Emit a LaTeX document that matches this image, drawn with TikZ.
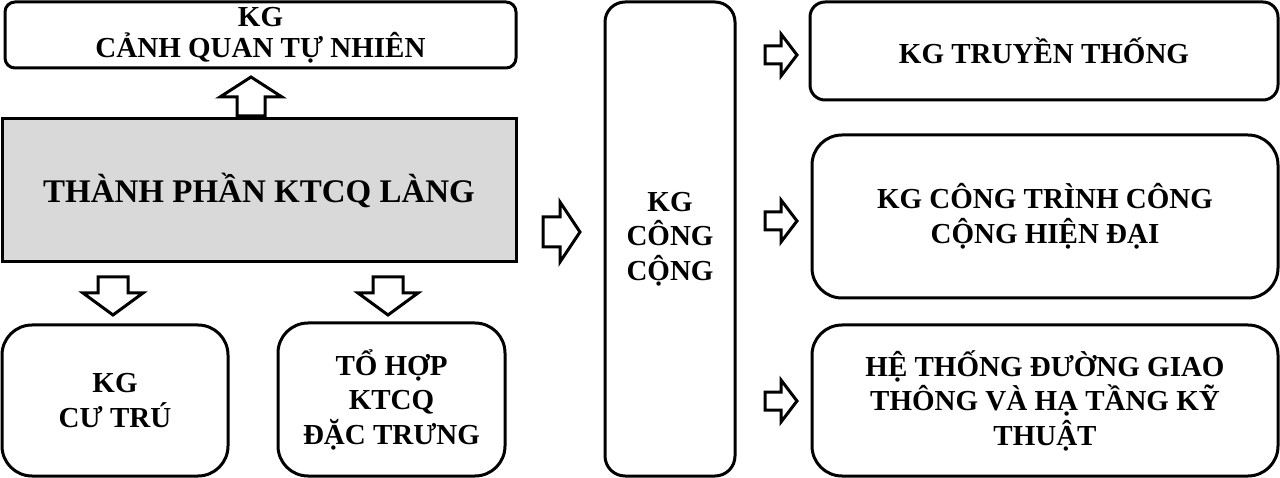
\documentclass[tikz,border=0pt]{standalone}
\usepackage{fontspec}
\setmainfont{Liberation Serif}
\usetikzlibrary{positioning}

\tikzset{
  box/.style={draw, line width=3pt, rounded corners=#1, align=center, inner sep=0pt,
    font=\fontsize{29}{34.5}\selectfont\bfseries},
  box/.default=30pt,
  arrowline/.style={draw, line width=3pt, fill=white, line join=miter},
  pics/barrow/.style n args={4}{code={
    \draw[arrowline] (0,{-#3/2}) -- ({#1-#4},{-#3/2}) -- ({#1-#4},{-#2/2}) -- (#1,0)
      -- ({#1-#4},{#2/2}) -- ({#1-#4},{#3/2}) -- (0,{#3/2}) -- cycle;
  }}
}
\definecolor{boxgray}{RGB}{217,217,217}

\begin{document}
\begin{tikzpicture}[x=1pt,y=1pt]
\useasboundingbox (0,0) rectangle (1280,-478);

\node[box=10pt, minimum width=511pt, minimum height=66pt,
  font=\fontsize{29}{31}\selectfont\bfseries] (nat) at (260.5,-35) {KG\\CẢNH QUAN TỰ NHIÊN};
\node[box=0pt, fill=boxgray, minimum width=514pt, minimum height=143pt,
  font=\fontsize{33}{40}\selectfont\bfseries] (main) at (259,-190.5) {THÀNH PHẦN KTCQ LÀNG};
\node[box, minimum width=226pt, minimum height=151pt] (cutru) at (115,-400.5) {KG\\CƯ TRÚ};
\node[box, minimum width=227pt, minimum height=153pt] (tohop) at (391.5,-399.5) {TỔ HỢP\\KTCQ\\ĐẶC TRƯNG};

\node[box=20pt, minimum width=130pt, minimum height=474pt] (congcong) at (670,-239) {KG\\CÔNG\\CỘNG};

\node[box=15pt, minimum width=468pt, minimum height=98pt] (truyenthong) at (1044,-51) {KG TRUYỀN THỐNG};
\node[box, minimum width=466pt, minimum height=163pt] (hiendai) at (1045,-216.5) {KG CÔNG TRÌNH CÔNG\\CỘNG HIỆN ĐẠI};
\node[box, minimum width=466pt, minimum height=151pt] (giaothong) at (1045,-400.5) {HỆ THỐNG ĐƯỜNG GIAO\\THÔNG VÀ HẠ TẦNG KỸ\\THUẬT};

% block arrows
\pic[rotate=90] at (251,-116) {barrow={39}{62}{28}{20}};
\pic[rotate=-90] at (113,-277) {barrow={38}{60}{30}{22}};
\pic[rotate=-90] at (388,-277) {barrow={38}{60}{30}{22}};
\pic at (543,-232) {barrow={37}{60}{30}{20}};

\foreach \yy in {-55,-221,-401}
  \pic at (765,\yy) {barrow={32}{42}{18}{16}};

\end{tikzpicture}
\end{document}
